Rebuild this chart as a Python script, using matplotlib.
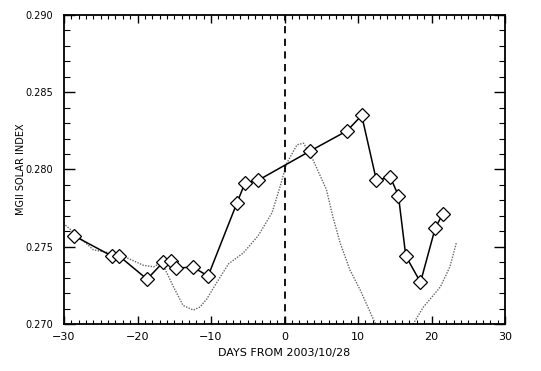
import matplotlib
matplotlib.use("Agg")
import matplotlib.pyplot as plt
from matplotlib.ticker import MultipleLocator, FormatStrFormatter

# MgII index measurements (days relative to 2003/10/28)
days = [-28.6, -23.5, -22.5, -18.7, -16.5, -15.5, -14.7, -12.5, -10.4,
        -6.5, -5.4, -3.6, 3.5, 8.5, 10.5, 12.5, 14.4, 15.5, 16.5, 18.5,
        20.5, 21.5]
mgii = [0.2757, 0.2744, 0.2744, 0.2729, 0.2740, 0.2741, 0.2736, 0.2737,
        0.2731, 0.2778, 0.2791, 0.2793, 0.2812, 0.2825, 0.2835, 0.2793,
        0.2795, 0.2783, 0.2744, 0.2727, 0.2762, 0.2771]

# dotted reference curve
ref_days = [-29.8, -26.0, -23.7, -21.5, -19.2, -17.8, -16.7, -15.1, -13.8,
            -12.4, -11.5, -10.6, -9.2, -7.6, -5.6, -3.6, -1.7, -0.6, 0.3,
            1.7, 2.6, 3.9, 5.7, 6.6, 7.6, 8.9, 10.3, 11.9, 12.3, 14.0,
            15.5, 17.5, 18.9, 21.2, 22.5, 23.4]
ref_vals = [0.2764, 0.2748, 0.2746, 0.2743, 0.2738, 0.2737, 0.2740, 0.2724,
            0.2712, 0.2709, 0.2711, 0.2716, 0.2727, 0.2739, 0.2746, 0.2757,
            0.2772, 0.2789, 0.2804, 0.2816, 0.2817, 0.2806, 0.2787, 0.2769,
            0.2752, 0.2735, 0.2722, 0.2705, 0.2701, 0.2688, 0.2686, 0.2700,
            0.2711, 0.2724, 0.2737, 0.2753]

plt.rcParams["font.family"] = "DejaVu Sans"
fig = plt.figure(figsize=(5.41, 3.71), dpi=100)
ax = fig.add_axes([0.1183, 0.1267, 0.8152, 0.8329])

ax.plot(ref_days, ref_vals, linestyle=(0, (1, 1)), color="#666666", lw=1.0)
ax.plot(days, mgii, color="black", lw=1.1, marker="D", markersize=7,
        markerfacecolor="white", markeredgecolor="black", markeredgewidth=0.9)
ax.axvline(0, color="black", linestyle=(0, (4, 3)), lw=1.3)

ax.set_xlim(-30, 30)
ax.set_ylim(0.270, 0.290)
ax.xaxis.set_major_locator(MultipleLocator(10))
ax.xaxis.set_minor_locator(MultipleLocator(1))
ax.yaxis.set_major_locator(MultipleLocator(0.005))
ax.yaxis.set_minor_locator(MultipleLocator(0.001))
ax.yaxis.set_major_formatter(FormatStrFormatter("%.3f"))

ax.tick_params(which="both", direction="in", top=True, right=True)
ax.tick_params(axis="x", which="major", length=6, width=1, labelsize=8, pad=5.7)
ax.tick_params(axis="x", which="minor", length=3, width=0.8)
ax.tick_params(axis="y", which="major", length=8, width=1, labelsize=7, pad=7.8)
ax.tick_params(axis="y", which="minor", length=4, width=0.8)
for s in ax.spines.values():
    s.set_linewidth(1.3)

ax.set_xlabel("DAYS FROM 2003/10/28", fontsize=8)
ax.set_ylabel("MGII SOLAR INDEX", fontsize=7)
ax.xaxis.set_label_coords(0.5, -0.078)
ax.yaxis.set_label_coords(-0.086, 0.5)

fig.savefig("out.png", dpi=100)
